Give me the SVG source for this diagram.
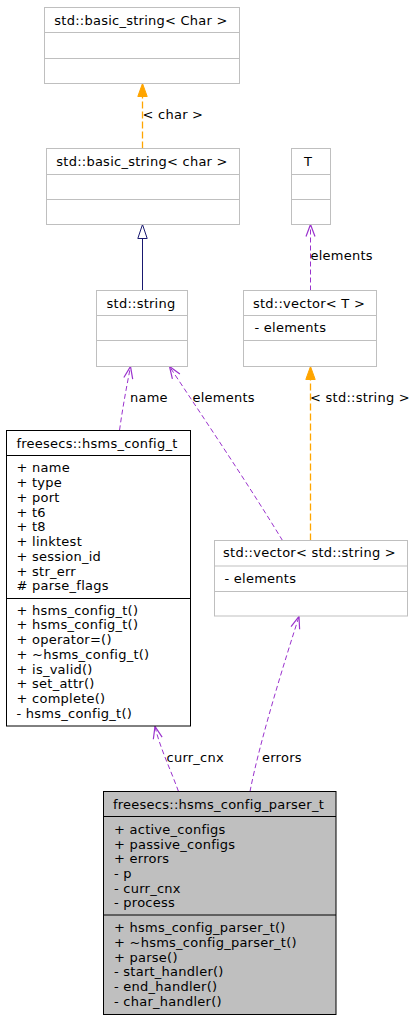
<svg xmlns="http://www.w3.org/2000/svg" width="415" height="1019" viewBox="0 0 415 1019">
<style>
text{font-family:"DejaVu Sans","Liberation Sans",sans-serif;font-size:13px;letter-spacing:0.25px;fill:#000}
.t{text-anchor:middle}
.box{fill:#fff;stroke:#bfbfbf;stroke-width:1}
.bk{fill:#fff;stroke:#000;stroke-width:1}
.cur{fill:#bfbfbf;stroke:#000;stroke-width:1}
.dg{stroke:#bfbfbf;stroke-width:1}
.db{stroke:#000;stroke-width:1}
.use{fill:none;stroke:#9a32cd;stroke-width:1;stroke-dasharray:5,3;marker-end:url(#vee)}
.tmpl{fill:none;stroke:#ffa500;stroke-width:1.3;stroke-dasharray:7,3;marker-end:url(#tri)}
.inh{fill:none;stroke:#191970;stroke-width:1;marker-end:url(#empty)}
</style>
<defs>
<marker id="vee" markerUnits="userSpaceOnUse" orient="auto" refX="12" refY="0" overflow="visible" markerWidth="14" markerHeight="10">
<path d="M0,-4.5 L12,0 L0,4.5" fill="none" stroke="#9a32cd" stroke-width="1.2"/>
</marker>
<marker id="tri" markerUnits="userSpaceOnUse" orient="auto" refX="0" refY="0" overflow="visible" markerWidth="14" markerHeight="10">
<path d="M0,-4.7 L13,0 L0,4.7 Z" fill="#ffa500" stroke="#ffa500" stroke-width="1"/>
</marker>
<marker id="empty" markerUnits="userSpaceOnUse" orient="auto" refX="0" refY="0" overflow="visible" markerWidth="16" markerHeight="10">
<path d="M0,-4.7 L14,0 L0,4.7 Z" fill="#fff" stroke="#191970" stroke-width="1"/>
</marker>
</defs>

<g id="connectors">
<path class="tmpl" d="M142.5,148.5 L142.5,96.5"/>
<text x="142.5" y="119">&lt; char &gt;</text>
<path class="inh" d="M142.5,290.5 L142.5,238.5"/>
<path class="use" d="M310.5,290.5 L310.5,224.5"/>
<text x="310.5" y="260">elements</text>
<path class="tmpl" d="M310.5,540.5 L310.5,379.5"/>
<text x="310" y="402">&lt; std::string &gt;</text>
<path class="use" d="M119.5,430.5 C123,405 127,385 130.5,366.5"/>
<text x="130" y="402">name</text>
<path class="use" d="M282.5,540.5 C250,487 205,420 169.5,366.5"/>
<text x="192.5" y="402">elements</text>
<path class="use" d="M178.5,791.5 C170,768 160,748 155,726.5"/>
<text x="166.5" y="762">curr_cnx</text>
<path class="use" d="M250,791.5 C260,740 285,660 299,616.5"/>
<text x="262" y="762">errors</text>
</g>

<g id="basic_string_Char">
<rect class="box" x="44.5" y="7.5" width="195" height="76"/>
<line class="dg" x1="44.5" y1="32.5" x2="239.5" y2="32.5"/>
<line class="dg" x1="44.5" y1="58.5" x2="239.5" y2="58.5"/>
<text class="t" x="141" y="24.5">std::basic_string&lt; Char &gt;</text>
</g>

<g id="basic_string_char">
<rect class="box" x="46.5" y="148.5" width="193" height="76"/>
<line class="dg" x1="46.5" y1="174.5" x2="239.5" y2="174.5"/>
<line class="dg" x1="46.5" y1="199.5" x2="239.5" y2="199.5"/>
<text class="t" x="142" y="165.5">std::basic_string&lt; char &gt;</text>
</g>

<g id="T">
<rect class="box" x="291.5" y="148.5" width="39" height="76"/>
<line class="dg" x1="291.5" y1="174.5" x2="330.5" y2="174.5"/>
<line class="dg" x1="291.5" y1="199.5" x2="330.5" y2="199.5"/>
<text class="t" x="308" y="165.5">T</text>
</g>

<g id="std_string">
<rect class="box" x="96.5" y="290.5" width="91" height="76"/>
<line class="dg" x1="96.5" y1="315.5" x2="187.5" y2="315.5"/>
<line class="dg" x1="96.5" y1="340.5" x2="187.5" y2="340.5"/>
<text class="t" x="141" y="307.5">std::string</text>
</g>

<g id="vector_T">
<rect class="box" x="243.5" y="290.5" width="133" height="76"/>
<line class="dg" x1="243.5" y1="315.5" x2="376.5" y2="315.5"/>
<line class="dg" x1="243.5" y1="340.5" x2="376.5" y2="340.5"/>
<text class="t" x="309" y="307.5">std::vector&lt; T &gt;</text>
<text x="254.5" y="332">- elements</text>
</g>

<g id="hsms_config_t">
<rect class="bk" x="6.5" y="430.5" width="184" height="295.5"/>
<line class="db" x1="6.5" y1="455.5" x2="190.5" y2="455.5"/>
<line class="db" x1="6.5" y1="598.5" x2="190.5" y2="598.5"/>
<text class="t" x="97" y="447.5">freesecs::hsms_config_t</text>
<text x="16.5" y="472.3">+ name</text>
<text x="16.5" y="487">+ type</text>
<text x="16.5" y="501.8">+ port</text>
<text x="16.5" y="516.5">+ t6</text>
<text x="16.5" y="531.3">+ t8</text>
<text x="16.5" y="546">+ linktest</text>
<text x="16.5" y="560.8">+ session_id</text>
<text x="16.5" y="575.5">+ str_err</text>
<text x="16.5" y="590.3"># parse_flags</text>
<text x="16.5" y="614.5">+ hsms_config_t()</text>
<text x="16.5" y="629.2">+ hsms_config_t()</text>
<text x="16.5" y="644">+ operator=()</text>
<text x="16.5" y="658.7">+ ~hsms_config_t()</text>
<text x="16.5" y="673.5">+ is_valid()</text>
<text x="16.5" y="688.2">+ set_attr()</text>
<text x="16.5" y="703">+ complete()</text>
<text x="16.5" y="717.7">- hsms_config_t()</text>
</g>

<g id="vector_string">
<rect class="box" x="214.5" y="540.5" width="193" height="75.5"/>
<line class="dg" x1="214.5" y1="566" x2="407.5" y2="566"/>
<line class="dg" x1="214.5" y1="591.5" x2="407.5" y2="591.5"/>
<text class="t" x="309.5" y="557">std::vector&lt; std::string &gt;</text>
<text x="224.5" y="583">- elements</text>
</g>

<g id="hsms_config_parser_t">
<rect class="cur" x="103.5" y="791.5" width="232.5" height="223"/>
<line class="db" x1="103.5" y1="816.5" x2="336" y2="816.5"/>
<line class="db" x1="103.5" y1="915" x2="336" y2="915"/>
<text class="t" x="218.5" y="808.5">freesecs::hsms_config_parser_t</text>
<text x="114" y="833.8">+ active_configs</text>
<text x="114" y="848.5">+ passive_configs</text>
<text x="114" y="863.2">+ errors</text>
<text x="114" y="877.9">- p</text>
<text x="114" y="892.6">- curr_cnx</text>
<text x="114" y="907.3">- process</text>
<text x="114" y="932.2">+ hsms_config_parser_t()</text>
<text x="114" y="946.9">+ ~hsms_config_parser_t()</text>
<text x="114" y="961.6">+ parse()</text>
<text x="114" y="976.3">- start_handler()</text>
<text x="114" y="991">- end_handler()</text>
<text x="114" y="1005.7">- char_handler()</text>
</g>
</svg>
